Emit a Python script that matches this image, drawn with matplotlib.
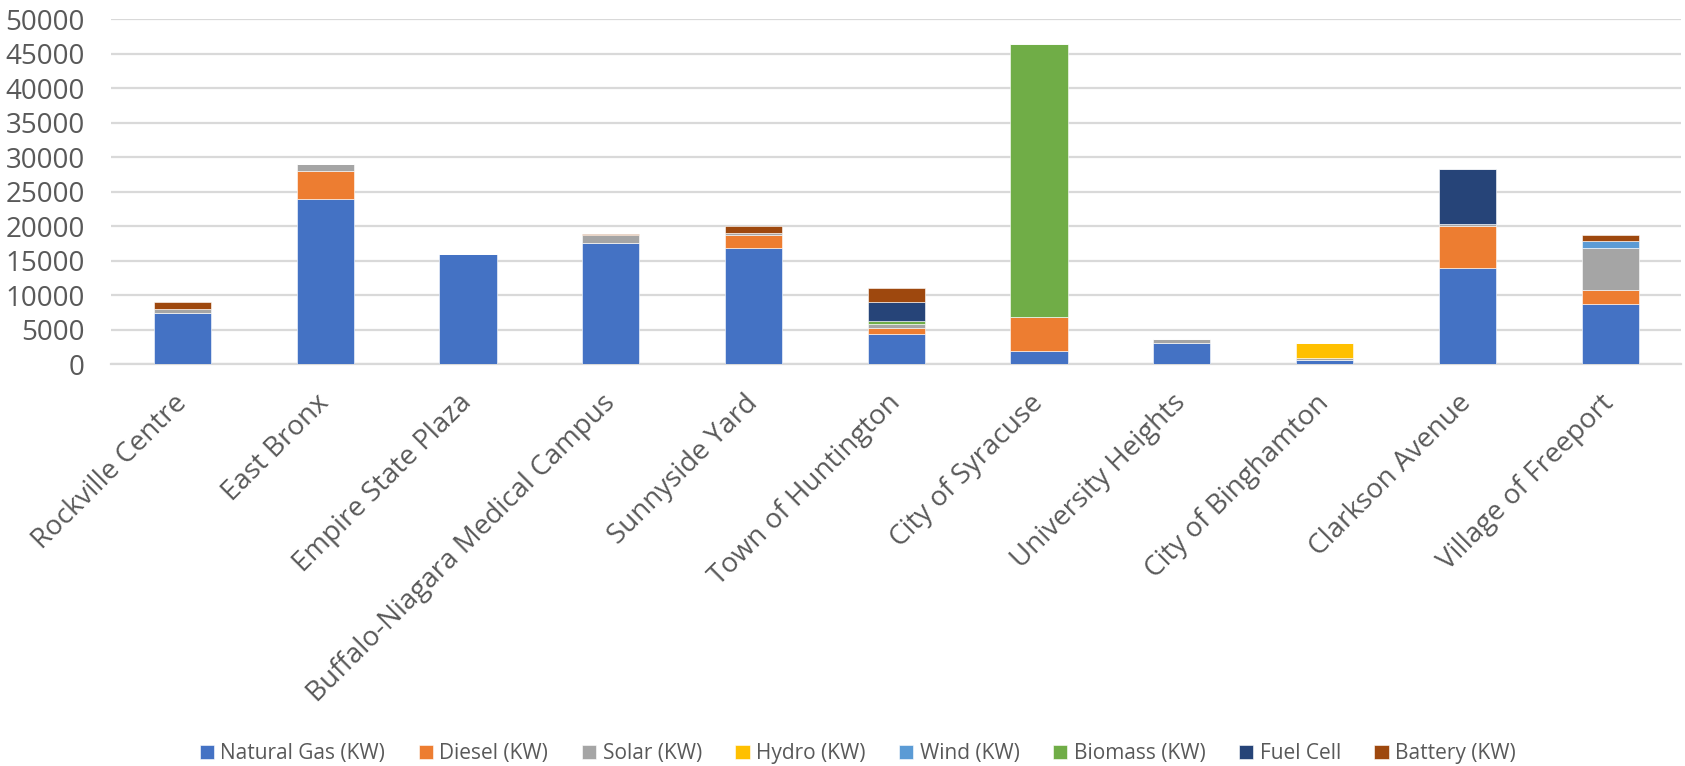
import matplotlib
matplotlib.use("Agg")
import matplotlib.pyplot as plt
import numpy as np

sites = ["Rockville Centre", "East Bronx", "Empire State Plaza",
         "Buffalo-Niagara Medical Campus", "Sunnyside Yard", "Town of Huntington",
         "City of Syracuse", "University Heights", "City of Binghamton",
         "Clarkson Avenue", "Village of Freeport"]

natural_gas = [7400, 24000, 16000, 17600, 16900, 4400, 2000, 3100, 600, 14000, 8800]
diesel      = [0, 4000, 0, 0, 1900, 800, 4800, 0, 0, 6000, 2000]
solar       = [600, 1000, 0, 1200, 250, 650, 0, 600, 250, 350, 6100]
hydro       = [0, 0, 0, 0, 0, 0, 0, 0, 2200, 0, 0]
wind        = [0, 0, 0, 0, 0, 0, 0, 0, 0, 0, 1000]
biomass     = [0, 0, 0, 0, 0, 400, 39600, 0, 0, 0, 0]
fuel_cell   = [0, 0, 0, 0, 0, 2750, 0, 0, 0, 7900, 0]
battery     = [1000, 0, 0, 150, 1000, 2100, 0, 0, 0, 0, 900]

series = [
    ("Natural Gas (KW)", natural_gas, "#4472C4"),
    ("Diesel (KW)", diesel, "#ED7D31"),
    ("Solar (KW)", solar, "#A5A5A5"),
    ("Hydro (KW)", hydro, "#FFC000"),
    ("Wind (KW)", wind, "#5B9BD5"),
    ("Biomass (KW)", biomass, "#70AD47"),
    ("Fuel Cell", fuel_cell, "#264478"),
    ("Battery (KW)", battery, "#9E480E"),
]

plt.rcParams["font.family"] = ["Open Sans", "DejaVu Sans"]
txt = "#595959"

fig = plt.figure(figsize=(16.85, 7.66), dpi=100)
ax = fig.add_axes([0.0659, 0.5244, 0.932, 0.4504])

x = np.arange(len(sites))
bottom = np.zeros(len(sites))
for name, vals, col in series:
    vals = np.array(vals, dtype=float)
    ax.bar(x, vals, 0.4, bottom=bottom, color=col, label=name,
           edgecolor="white", linewidth=0.4, zorder=3)
    bottom += vals

ax.set_xlim(-0.5, len(sites) - 0.5)
ax.set_ylim(0, 50000)
ax.set_yticks(np.arange(0, 50001, 5000))
ax.yaxis.grid(True, color="#D9D9D9", linewidth=1.6, zorder=0)
ax.set_axisbelow(True)
for s in ["top", "right", "left"]:
    ax.spines[s].set_visible(False)
ax.spines["bottom"].set_color("#D9D9D9")
ax.spines["bottom"].set_linewidth(1.6)
ax.tick_params(axis="both", length=0, colors=txt)
ax.tick_params(axis="y", labelsize=20, pad=19)
ax.set_xticks(x)
ax.set_xticklabels(sites, rotation=45, ha="right", va="center",
                   rotation_mode="anchor", fontsize=20, color=txt)
ax.tick_params(axis="x", pad=25)

fig.legend(loc="lower center", bbox_to_anchor=(0.509, -0.022), ncol=8,
           frameon=False, fontsize=15, handlelength=0.7, handleheight=0.7,
           handletextpad=0.3, columnspacing=1.6, labelcolor=txt)

fig.savefig("out.png", dpi=100)
